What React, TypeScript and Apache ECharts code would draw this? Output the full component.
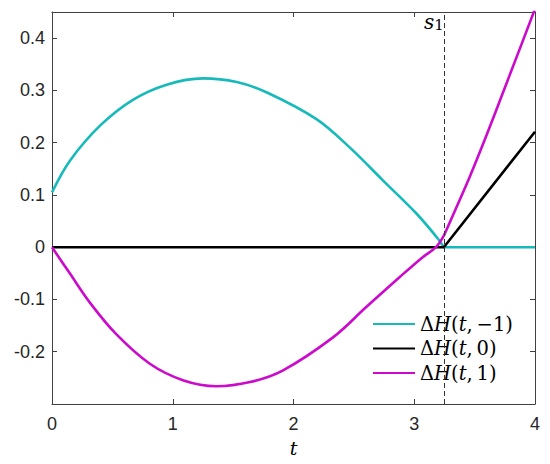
import React, { useEffect, useRef } from "react";
import * as echarts from "echarts";

const S1 = 3.245;

// ΔH(t,-1): smooth part, then kink to zero at s1
const cyanT = [0, 0.15, 0.4, 0.67, 0.95, 1.25, 1.53, 1.78, 2.19, 2.465, 2.74, 3.02, 3.197];
const cyanV = [0.105, 0.166, 0.233, 0.282, 0.311, 0.323, 0.316, 0.296, 0.245, 0.191, 0.128, 0.064, 0.016];
const cyanTailT = [3.197, S1, 4];
const cyanTailV = [0.016, 0, 0];

// ΔH(t,0)
const blackT = [0, S1, 4];
const blackV = [0, 0, 0.221];

// ΔH(t,1): before s1 and after s1
const magT = [0, 0.15, 0.31, 0.53, 0.81, 1.09, 1.36, 1.64, 1.91, 2.33, 2.6, 2.88, 3.07, 3.18, S1];
const magV = [0, -0.051, -0.105, -0.166, -0.223, -0.255, -0.266, -0.258, -0.236, -0.172, -0.115, -0.057, -0.019, 0, 0.022];
const magTailT = [S1, 3.46, 3.6, 3.735, 3.873, 4.0];
const magTailV = [0.022, 0.135, 0.215, 0.296, 0.379, 0.456];

const xTicks = [0, 1, 2, 3, 4];
const yTickLabels = ["-0.2", "-0.1", "0", "0.1", "0.2", "0.3", "0.4"];

const names = ["ΔH(t,−1)", "ΔH(t,0)", "ΔH(t,1)"];
const legendRich: Record<string, string> = {
  "ΔH(t,−1)": "{u|Δ}{i|H}{u|(}{i|t}{u|,\u2009−1)}",
  "ΔH(t,0)": "{u|Δ}{i|H}{u|(}{i|t}{u|,\u20090)}",
  "ΔH(t,1)": "{u|Δ}{i|H}{u|(}{i|t}{u|,\u20091)}",
};

const CYAN = "#17BABA";
const MAG = "#CC0ACC";
const BLACK = "#000000";

const zip = (a: number[], b: number[]) => a.map((t, i) => [t, b[i]]);

export default function App() {
  const ref = useRef<HTMLDivElement>(null);
  useEffect(() => {
    if (!ref.current) return;
    const chart = echarts.init(ref.current, null, { renderer: "svg" });
    const axisColor = "#404040";
    const labelFont = { fontFamily: "Liberation Sans", fontSize: 18, color: "#262626" };
    const fmtY = (v: number) => {
      const s = (Math.round(v * 10) / 10).toFixed(1);
      const out = s === "0.0" || s === "-0.0" ? "0" : s;
      return yTickLabels.includes(out) && Math.abs(v * 10 - Math.round(v * 10)) < 1e-6 ? out : "";
    };
    const lineBase = (name: string, color: string, data: number[][], smooth: boolean | number) => ({
      type: "line",
      name,
      data,
      showSymbol: false,
      symbol: "none",
      smooth,
      clip: true,
      lineStyle: { color, width: 2.6 },
      itemStyle: { color },
      emphasis: { disabled: true },
    });
    const option: any = {
      animation: false,
      grid: { left: 52, right: 15, top: 12, bottom: 60, containLabel: false },
      xAxis: [
        {
          type: "value",
          min: 0,
          max: 4,
          interval: 1,
          name: "t",
          nameLocation: "middle",
          nameGap: 34,
          nameTextStyle: { fontFamily: "DejaVu Serif", fontStyle: "italic", fontSize: 19, color: "#000" },
          axisLine: { show: true, onZero: false, lineStyle: { color: axisColor, width: 1 } },
          axisTick: { show: true, inside: true, length: 5, lineStyle: { color: axisColor } },
          axisLabel: { ...labelFont, margin: 11, formatter: (v: number) => (xTicks.includes(v) ? String(v) : "") },
          splitLine: { show: false },
        },
        {
          type: "value",
          position: "top",
          min: 0,
          max: 4,
          interval: 1,
          axisLine: { show: true, onZero: false, lineStyle: { color: axisColor, width: 1 } },
          axisTick: { show: true, inside: true, length: 5, lineStyle: { color: axisColor } },
          axisLabel: { show: false },
          splitLine: { show: false },
        },
      ],
      yAxis: [
        {
          type: "value",
          min: -0.3,
          max: 0.45,
          interval: 0.1,
          axisLine: { show: true, onZero: false, lineStyle: { color: axisColor, width: 1 } },
          axisTick: { show: true, inside: true, length: 5, lineStyle: { color: axisColor } },
          axisLabel: { ...labelFont, margin: 7, showMinLabel: false, showMaxLabel: false, formatter: fmtY },
          splitLine: { show: false },
        },
        {
          type: "value",
          position: "right",
          min: -0.3,
          max: 0.45,
          interval: 0.1,
          axisLine: { show: true, onZero: false, lineStyle: { color: axisColor, width: 1 } },
          axisTick: { show: true, inside: true, length: 5, lineStyle: { color: axisColor } },
          axisLabel: { show: false },
          splitLine: { show: false },
        },
      ],
      legend: {
        data: names,
        orient: "vertical",
        left: 367,
        top: 309,
        padding: [5, 6, 5, 5],
        backgroundColor: "#ffffff",
        itemWidth: 42,
        itemHeight: 14,
        itemGap: 4.5,
        selectedMode: false,
        itemStyle: { opacity: 0 },
        formatter: (n: string) => legendRich[n] || n,
        textStyle: {
          fontFamily: "DejaVu Serif",
          fontSize: 19.5,
          color: "#000",
          rich: {
            u: { fontFamily: "DejaVu Serif", fontSize: 19.5, color: "#000", lineHeight: 20 },
            i: { fontFamily: "DejaVu Serif", fontStyle: "italic", fontSize: 19.5, color: "#000", lineHeight: 20 },
          },
        },
      },
      series: [
        {
          ...lineBase(names[0], CYAN, zip(cyanT, cyanV), 0.35),
        },
        {
          ...lineBase("cyan-tail", CYAN, zip(cyanTailT, cyanTailV), false),
        },
        {
          ...lineBase(names[1], BLACK, zip(blackT, blackV), false),
          markLine: {
            silent: true,
            symbol: "none",
            label: { show: false },
            lineStyle: { type: [5, 3], color: "#333333", width: 1 },
            emphasis: { disabled: true },
            data: [{ xAxis: S1 }],
          },
        },
        {
          ...lineBase(names[2], MAG, zip(magT, magV), 0.35),
        },
        {
          ...lineBase("mag-tail", MAG, zip(magTailT, magTailV), 0.25),
        },
      ],
      graphic: [
        {
          type: "text",
          left: 424,
          top: 12,
          style: {
            text: "{s|s}{n|1}",
            rich: {
              s: { fontFamily: "DejaVu Serif", fontStyle: "italic", fontSize: 20, fill: "#000", verticalAlign: "bottom" },
              n: { fontFamily: "DejaVu Serif", fontSize: 15, fill: "#000", padding: [6, 0, 0, 0], verticalAlign: "bottom" },
            },
          },
        },
      ],
    };
    chart.setOption(option);
    return () => chart.dispose();
  }, []);
  return <div ref={ref} style={{ width: 550, height: 464, margin: -8 }} />;
}
